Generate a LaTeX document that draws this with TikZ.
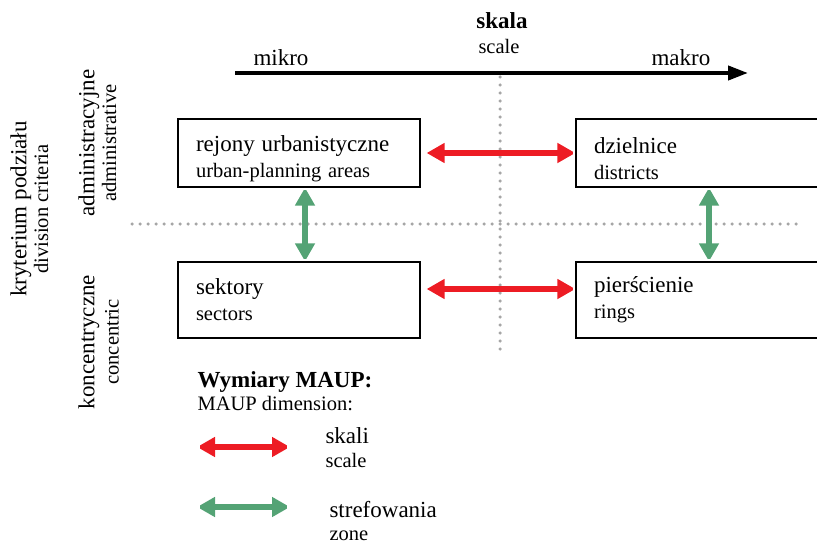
\documentclass[tikz,border=0pt]{standalone}
\usepackage{fontspec}
\setmainfont{Liberation Serif}
\usetikzlibrary{arrows.meta,decorations.markings}
\definecolor{scalered}{RGB}{237,28,36}
\definecolor{zonegreen}{RGB}{84,163,117}
\newcommand\plfont{\fontsize{23}{26}\selectfont}
\newcommand\enfont{\fontsize{20.5}{26}\selectfont}

\begin{document}
\begin{tikzpicture}[
    x=1pt, y=-1pt,
    unit/.style={draw=black, line width=1.2pt, minimum width=242pt,
        text width=206pt, align=left, inner sep=0pt, font=\enfont},
    lowered/.style={execute at begin node={\rule{0pt}{28pt}}},
    dimarrow/.style={line width=6.5pt,
        {Triangle[length=18pt,width=19pt]}-{Triangle[length=18pt,width=19pt]},
        postaction={decorate, decoration={markings,
            mark=at position 1.5pt with {\fill[white] (-1.2pt,-2pt) rectangle (1.2pt,2pt);},
            mark=at position -1.5pt with {\fill[white] (-1.2pt,-2pt) rectangle (1.2pt,2pt);}}}},
    scalearrow/.style={dimarrow, draw=scalered, fill=scalered},
    zonearrow/.style={dimarrow, draw=zonegreen, fill=zonegreen},
    grid/.style={gray!70, line width=3.5pt, line cap=round, dash pattern=on 0pt off 8pt}
]
    \useasboundingbox (0,0) rectangle (817,543);
    % dotted axes
    \draw[grid] (500,77) -- (500,352);
    \draw[grid] (132,224) -- (800,224);
    % scale axis
    \coordinate (micro) at (235,73);
    \coordinate (macro) at (748,73);
    \draw[line width=4pt, -{Triangle[length=20pt,width=14pt]}] (micro) -- (macro);
    \node[font=\plfont\bfseries] (skala) at (502,21) {skala};
    \node[font=\enfont] (scale) at (499,46) {scale};
    \node[font=\plfont, anchor=base west] (mikro) at (250,66) {mikro};
    \node[font=\plfont, anchor=base west] (makro) at (648,66) {makro};
    % units
    \node[unit, lowered, minimum height=68pt] (rejony) at (299,153)
        {\plfont rejony urbanistyczne\\ \enfont urban-planning areas};
    \node[unit, lowered, minimum height=68pt] (dzielnice) at (697,153)
        {\plfont dzielnice\\ \enfont districts};
    \node[unit, minimum height=76pt] (sektory) at (299,300)
        {\plfont sektory\\ \enfont sectors};
    \node[unit, minimum height=76pt] (pierscienie) at (697,300)
        {\plfont pierścienie\\ \enfont rings};
    % MAUP dimensions
    \draw[scalearrow, shorten <=6pt] (rejony.east) -- (dzielnice.west);
    \draw[scalearrow, shorten <=6pt] (sektory.east |- 0,289) -- (pierscienie.west |- 0,289);
    \draw[zonearrow] (rejony.south -| 305,0) -- (sektory.north -| 305,0);
    \draw[zonearrow] (dzielnice.south -| 709,0) -- (pierscienie.north -| 709,0);
    % division criteria
    \node[font=\plfont, rotate=90] (kryterium) at (21,209) {kryterium podziału};
    \node[font=\enfont, rotate=90] (criteria) at (41,209) {division criteria};
    \node[font=\plfont, rotate=90] (admin) at (89,143) {administracyjne};
    \node[font=\enfont, rotate=90] (administrative) at (109,143) {administrative};
    \node[font=\plfont, rotate=90] (koncentryczne) at (89,342) {koncentryczne};
    \node[font=\enfont, rotate=90] (concentric) at (112,342) {concentric};
    % legend
    \node[font=\plfont\bfseries, anchor=base west] (wymiary) at (194,387) {Wymiary MAUP:};
    \node[font=\enfont, anchor=base west] (dimension) at (194,410) {MAUP dimension:};
    \coordinate (redA) at (197,447);
    \coordinate (redB) at (290,447);
    \coordinate (greenA) at (197,507);
    \coordinate (greenB) at (290,507);
    \draw[scalearrow] (redA) -- (redB);
    \draw[zonearrow] (greenA) -- (greenB);
    \node[font=\plfont, anchor=base west] (skali) at (322,443) {skali};
    \node[font=\enfont, anchor=base west] (skalien) at (322,467) {scale};
    \node[font=\plfont, anchor=base west] (strefowania) at (326,517) {strefowania};
    \node[font=\enfont, anchor=base west] (zone) at (326,540) {zone};
\end{tikzpicture}
\end{document}
